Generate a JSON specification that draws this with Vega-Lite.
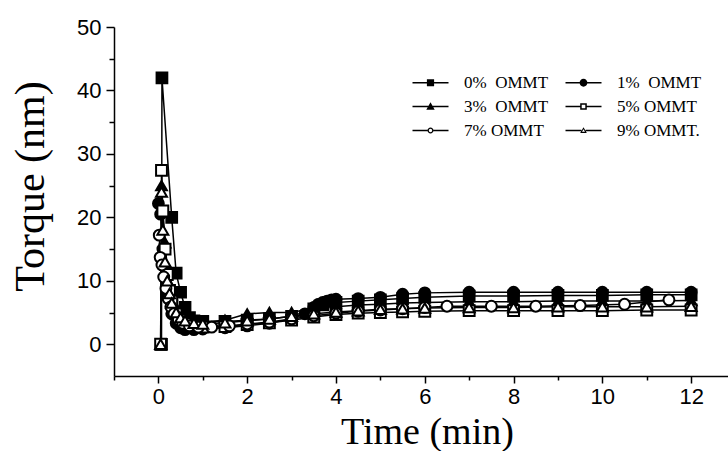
{
  "$schema": "https://vega.github.io/schema/vega-lite/v6.json",
  "width": 614,
  "height": 349,
  "autosize": {"type": "none"},
  "padding": {"left": 114, "top": 27, "right": 0, "bottom": 75},
  "background": "white",
  "config": {
    "view": {"stroke": null},
    "axis": {"domainColor": "black", "domainWidth": 1.5, "tickColor": "black", "tickWidth": 1.5, "labelColor": "black", "labelFont": "Liberation Sans", "labelFontSize": 22, "titleColor": "black", "titleFont": "Liberation Serif", "titleFontSize": 42, "titleFontWeight": "normal", "grid": false}
  },
  "datasets": {
    "d": [
      {"s": "0%\u00a0 OMMT", "t": 0.07, "v": 0}, {"s": "0%\u00a0 OMMT", "t": 0.08, "v": 42}, {"s": "0%\u00a0 OMMT", "t": 0.3, "v": 20}, {"s": "0%\u00a0 OMMT", "t": 0.4, "v": 11.2}, {"s": "0%\u00a0 OMMT", "t": 0.5, "v": 8.2}, {"s": "0%\u00a0 OMMT", "t": 0.6, "v": 5.8}, {"s": "0%\u00a0 OMMT", "t": 0.7, "v": 4.2}, {"s": "0%\u00a0 OMMT", "t": 0.8, "v": 3.7}, {"s": "0%\u00a0 OMMT", "t": 1.0, "v": 3.6}, {"s": "0%\u00a0 OMMT", "t": 1.5, "v": 3.6}, {"s": "0%\u00a0 OMMT", "t": 2.0, "v": 3.8}, {"s": "0%\u00a0 OMMT", "t": 2.5, "v": 4.0}, {"s": "0%\u00a0 OMMT", "t": 3.0, "v": 4.4}, {"s": "0%\u00a0 OMMT", "t": 3.5, "v": 5.6}, {"s": "0%\u00a0 OMMT", "t": 3.7, "v": 6.2}, {"s": "0%\u00a0 OMMT", "t": 4.0, "v": 6.6}, {"s": "0%\u00a0 OMMT", "t": 4.5, "v": 6.8}, {"s": "0%\u00a0 OMMT", "t": 5.0, "v": 7.0}, {"s": "0%\u00a0 OMMT", "t": 5.5, "v": 7.2}, {"s": "0%\u00a0 OMMT", "t": 6.0, "v": 7.4}, {"s": "0%\u00a0 OMMT", "t": 7, "v": 7.6}, {"s": "0%\u00a0 OMMT", "t": 8, "v": 7.6}, {"s": "0%\u00a0 OMMT", "t": 9, "v": 7.7}, {"s": "0%\u00a0 OMMT", "t": 10, "v": 7.7}, {"s": "0%\u00a0 OMMT", "t": 11, "v": 7.8}, {"s": "0%\u00a0 OMMT", "t": 12, "v": 7.8},
      {"s": "1%\u00a0 OMMT", "t": 0.0, "v": 22.2}, {"s": "1%\u00a0 OMMT", "t": 0.05, "v": 20.5}, {"s": "1%\u00a0 OMMT", "t": 0.1, "v": 15}, {"s": "1%\u00a0 OMMT", "t": 0.15, "v": 10.5}, {"s": "1%\u00a0 OMMT", "t": 0.2, "v": 7.5}, {"s": "1%\u00a0 OMMT", "t": 0.3, "v": 4.8}, {"s": "1%\u00a0 OMMT", "t": 0.4, "v": 3.3}, {"s": "1%\u00a0 OMMT", "t": 0.5, "v": 2.6}, {"s": "1%\u00a0 OMMT", "t": 0.6, "v": 2.3}, {"s": "1%\u00a0 OMMT", "t": 0.8, "v": 2.3}, {"s": "1%\u00a0 OMMT", "t": 1.0, "v": 2.4}, {"s": "1%\u00a0 OMMT", "t": 1.5, "v": 2.6}, {"s": "1%\u00a0 OMMT", "t": 2.0, "v": 2.9}, {"s": "1%\u00a0 OMMT", "t": 2.5, "v": 3.3}, {"s": "1%\u00a0 OMMT", "t": 3.0, "v": 4.0}, {"s": "1%\u00a0 OMMT", "t": 3.3, "v": 4.8}, {"s": "1%\u00a0 OMMT", "t": 3.5, "v": 5.8}, {"s": "1%\u00a0 OMMT", "t": 3.6, "v": 6.3}, {"s": "1%\u00a0 OMMT", "t": 3.7, "v": 6.6}, {"s": "1%\u00a0 OMMT", "t": 3.8, "v": 6.8}, {"s": "1%\u00a0 OMMT", "t": 3.9, "v": 7.0}, {"s": "1%\u00a0 OMMT", "t": 4.0, "v": 7.1}, {"s": "1%\u00a0 OMMT", "t": 4.5, "v": 7.2}, {"s": "1%\u00a0 OMMT", "t": 5.0, "v": 7.4}, {"s": "1%\u00a0 OMMT", "t": 5.5, "v": 7.9}, {"s": "1%\u00a0 OMMT", "t": 6.0, "v": 8.1}, {"s": "1%\u00a0 OMMT", "t": 7, "v": 8.2}, {"s": "1%\u00a0 OMMT", "t": 8, "v": 8.2}, {"s": "1%\u00a0 OMMT", "t": 9, "v": 8.2}, {"s": "1%\u00a0 OMMT", "t": 10, "v": 8.2}, {"s": "1%\u00a0 OMMT", "t": 11, "v": 8.2}, {"s": "1%\u00a0 OMMT", "t": 12, "v": 8.2},
      {"s": "3%\u00a0 OMMT", "t": 0.07, "v": 25}, {"s": "3%\u00a0 OMMT", "t": 0.1, "v": 21}, {"s": "3%\u00a0 OMMT", "t": 0.15, "v": 16}, {"s": "3%\u00a0 OMMT", "t": 0.2, "v": 12}, {"s": "3%\u00a0 OMMT", "t": 0.25, "v": 9.5}, {"s": "3%\u00a0 OMMT", "t": 0.3, "v": 7.8}, {"s": "3%\u00a0 OMMT", "t": 0.4, "v": 5.8}, {"s": "3%\u00a0 OMMT", "t": 0.5, "v": 4.6}, {"s": "3%\u00a0 OMMT", "t": 0.6, "v": 4.0}, {"s": "3%\u00a0 OMMT", "t": 0.7, "v": 3.7}, {"s": "3%\u00a0 OMMT", "t": 0.9, "v": 3.5}, {"s": "3%\u00a0 OMMT", "t": 1.0, "v": 3.5}, {"s": "3%\u00a0 OMMT", "t": 1.5, "v": 3.8}, {"s": "3%\u00a0 OMMT", "t": 2.0, "v": 4.8}, {"s": "3%\u00a0 OMMT", "t": 2.5, "v": 5.0}, {"s": "3%\u00a0 OMMT", "t": 3.0, "v": 5.0}, {"s": "3%\u00a0 OMMT", "t": 3.5, "v": 5.7}, {"s": "3%\u00a0 OMMT", "t": 4.0, "v": 5.9}, {"s": "3%\u00a0 OMMT", "t": 4.5, "v": 6.2}, {"s": "3%\u00a0 OMMT", "t": 5.0, "v": 6.3}, {"s": "3%\u00a0 OMMT", "t": 5.5, "v": 6.5}, {"s": "3%\u00a0 OMMT", "t": 6.0, "v": 6.6}, {"s": "3%\u00a0 OMMT", "t": 7, "v": 6.7}, {"s": "3%\u00a0 OMMT", "t": 8, "v": 6.7}, {"s": "3%\u00a0 OMMT", "t": 9, "v": 6.8}, {"s": "3%\u00a0 OMMT", "t": 10, "v": 6.8}, {"s": "3%\u00a0 OMMT", "t": 11, "v": 6.8}, {"s": "3%\u00a0 OMMT", "t": 12, "v": 6.9},
      {"s": "5% OMMT", "t": 0.05, "v": 0}, {"s": "5% OMMT", "t": 0.07, "v": 27.4}, {"s": "5% OMMT", "t": 0.1, "v": 21}, {"s": "5% OMMT", "t": 0.15, "v": 15}, {"s": "5% OMMT", "t": 0.2, "v": 11}, {"s": "5% OMMT", "t": 0.25, "v": 8.5}, {"s": "5% OMMT", "t": 0.3, "v": 6.8}, {"s": "5% OMMT", "t": 0.4, "v": 4.8}, {"s": "5% OMMT", "t": 0.5, "v": 3.8}, {"s": "5% OMMT", "t": 0.6, "v": 3.2}, {"s": "5% OMMT", "t": 0.8, "v": 2.8}, {"s": "5% OMMT", "t": 1.0, "v": 2.7}, {"s": "5% OMMT", "t": 1.5, "v": 2.8}, {"s": "5% OMMT", "t": 2.0, "v": 3.1}, {"s": "5% OMMT", "t": 2.5, "v": 3.4}, {"s": "5% OMMT", "t": 3.0, "v": 3.8}, {"s": "5% OMMT", "t": 3.5, "v": 4.3}, {"s": "5% OMMT", "t": 4.0, "v": 4.7}, {"s": "5% OMMT", "t": 4.5, "v": 4.9}, {"s": "5% OMMT", "t": 5.0, "v": 5.0}, {"s": "5% OMMT", "t": 5.5, "v": 5.1}, {"s": "5% OMMT", "t": 6.0, "v": 5.2}, {"s": "5% OMMT", "t": 7, "v": 5.3}, {"s": "5% OMMT", "t": 8, "v": 5.3}, {"s": "5% OMMT", "t": 9, "v": 5.3}, {"s": "5% OMMT", "t": 10, "v": 5.3}, {"s": "5% OMMT", "t": 11, "v": 5.4}, {"s": "5% OMMT", "t": 12, "v": 5.4},
      {"s": "7% OMMT", "t": 0.02, "v": 17.2}, {"s": "7% OMMT", "t": 0.04, "v": 13.7}, {"s": "7% OMMT", "t": 0.08, "v": 12.5}, {"s": "7% OMMT", "t": 0.12, "v": 10.6}, {"s": "7% OMMT", "t": 0.17, "v": 8.8}, {"s": "7% OMMT", "t": 0.22, "v": 7.2}, {"s": "7% OMMT", "t": 0.28, "v": 5.9}, {"s": "7% OMMT", "t": 0.35, "v": 4.8}, {"s": "7% OMMT", "t": 0.45, "v": 3.9}, {"s": "7% OMMT", "t": 0.55, "v": 3.3}, {"s": "7% OMMT", "t": 0.7, "v": 2.9}, {"s": "7% OMMT", "t": 0.9, "v": 2.7}, {"s": "7% OMMT", "t": 1.2, "v": 2.7}, {"s": "7% OMMT", "t": 1.6, "v": 2.9}, {"s": "7% OMMT", "t": 2.0, "v": 3.2}, {"s": "7% OMMT", "t": 2.5, "v": 3.5}, {"s": "7% OMMT", "t": 3.0, "v": 4.0}, {"s": "7% OMMT", "t": 3.5, "v": 4.5}, {"s": "7% OMMT", "t": 4.0, "v": 4.9}, {"s": "7% OMMT", "t": 4.5, "v": 5.2}, {"s": "7% OMMT", "t": 5.0, "v": 5.4}, {"s": "7% OMMT", "t": 5.5, "v": 5.6}, {"s": "7% OMMT", "t": 6.0, "v": 5.8}, {"s": "7% OMMT", "t": 6.5, "v": 6.0}, {"s": "7% OMMT", "t": 7.5, "v": 6.0}, {"s": "7% OMMT", "t": 8.5, "v": 6.0}, {"s": "7% OMMT", "t": 9.5, "v": 6.1}, {"s": "7% OMMT", "t": 10.5, "v": 6.3}, {"s": "7% OMMT", "t": 11.5, "v": 7.0},
      {"s": "9% OMMT.", "t": 0.05, "v": 0}, {"s": "9% OMMT.", "t": 0.07, "v": 24}, {"s": "9% OMMT.", "t": 0.1, "v": 18}, {"s": "9% OMMT.", "t": 0.15, "v": 13}, {"s": "9% OMMT.", "t": 0.2, "v": 10}, {"s": "9% OMMT.", "t": 0.25, "v": 8}, {"s": "9% OMMT.", "t": 0.3, "v": 6.5}, {"s": "9% OMMT.", "t": 0.4, "v": 5.0}, {"s": "9% OMMT.", "t": 0.5, "v": 4.2}, {"s": "9% OMMT.", "t": 0.6, "v": 3.7}, {"s": "9% OMMT.", "t": 0.8, "v": 3.3}, {"s": "9% OMMT.", "t": 1.0, "v": 3.2}, {"s": "9% OMMT.", "t": 1.5, "v": 3.4}, {"s": "9% OMMT.", "t": 2.0, "v": 3.7}, {"s": "9% OMMT.", "t": 2.5, "v": 4.0}, {"s": "9% OMMT.", "t": 3.0, "v": 4.4}, {"s": "9% OMMT.", "t": 3.5, "v": 4.8}, {"s": "9% OMMT.", "t": 4.0, "v": 5.1}, {"s": "9% OMMT.", "t": 4.5, "v": 5.3}, {"s": "9% OMMT.", "t": 5.0, "v": 5.5}, {"s": "9% OMMT.", "t": 5.5, "v": 5.6}, {"s": "9% OMMT.", "t": 6.0, "v": 5.7}, {"s": "9% OMMT.", "t": 7, "v": 5.8}, {"s": "9% OMMT.", "t": 8, "v": 5.8}, {"s": "9% OMMT.", "t": 9, "v": 5.9}, {"s": "9% OMMT.", "t": 10, "v": 5.9}, {"s": "9% OMMT.", "t": 11, "v": 5.9}, {"s": "9% OMMT.", "t": 12, "v": 6.0}
    ]
  },
  "data": {"name": "d"},
  "layer": [
    {
      "mark": {"type": "line", "color": "black", "strokeWidth": 1.5},
      "encoding": {
        "x": {"field": "t", "type": "quantitative", "scale": {"domain": [-1, 12.83], "nice": false, "zero": false},
          "axis": {"orient": "bottom", "values": [0, 2, 4, 6, 8, 10, 12], "tickSize": 7, "labelPadding": 3, "title": "Time (min)", "titleFontSize": 38, "titleX": 313, "titleY": 67, "titleBaseline": "alphabetic", "titleAlign": "center"}},
        "y": {"field": "v", "type": "quantitative", "scale": {"domain": [-5, 50], "nice": false, "zero": false},
          "axis": {"orient": "left", "values": [0, 10, 20, 30, 40, 50], "tickSize": 8, "labelPadding": 5, "title": "Torque (nm)", "titleX": -71, "titleY": 159, "titleAngle": -90, "titleBaseline": "alphabetic", "titleAlign": "center"}},
        "detail": {"field": "s", "type": "nominal"}
      }
    },
    {
      "mark": {"type": "point", "filled": true, "stroke": "black", "strokeWidth": 2, "opacity": 1},
      "encoding": {
        "x": {"field": "t", "type": "quantitative",
          "axis": {"orient": "bottom", "values": [-1, 1, 3, 5, 7, 9, 11], "tickSize": 4, "labels": false, "domain": false, "title": null}},
        "y": {"field": "v", "type": "quantitative",
          "axis": {"orient": "left", "values": [5, 15, 25, 35, 45], "tickSize": 5, "labels": false, "domain": false, "title": null}},
        "shape": {"field": "s", "type": "nominal", "scale": {"domain": ["0%\u00a0 OMMT", "1%\u00a0 OMMT", "3%\u00a0 OMMT", "5% OMMT", "7% OMMT", "9% OMMT."], "range": ["square", "circle", "triangle-up", "square", "circle", "triangle-up"]}, "legend": null},
        "fill": {"field": "s", "type": "nominal", "scale": {"domain": ["0%\u00a0 OMMT", "1%\u00a0 OMMT", "3%\u00a0 OMMT", "5% OMMT", "7% OMMT", "9% OMMT."], "range": ["black", "black", "black", "white", "white", "white"]}, "legend": null},
        "size": {"field": "s", "type": "nominal", "scale": {"domain": ["0%\u00a0 OMMT", "1%\u00a0 OMMT", "3%\u00a0 OMMT", "5% OMMT", "7% OMMT", "9% OMMT."], "range": [115, 120, 100, 85, 85, 75]}, "legend": null}
      }
    },
    {
      "mark": {"type": "point", "filled": true, "color": "black", "opacity": 0},
      "encoding": {
        "x": {"field": "t", "type": "quantitative", "axis": null},
        "y": {"field": "v", "type": "quantitative", "axis": null},
        "shape": {"field": "s", "type": "nominal",
          "scale": {"domain": ["0%\u00a0 OMMT", "1%\u00a0 OMMT", "3%\u00a0 OMMT", "5% OMMT", "7% OMMT", "9% OMMT."],
            "range": [
              "M-1,-0.25H11V0.25H-1Z M3.8,-1.2H6.2V1.2H3.8Z",
              "M-1,-0.25H11V0.25H-1Z M3.7,0A1.3,1.3,0,1,1,6.3,0A1.3,1.3,0,1,1,3.7,0Z",
              "M-1,-0.25H11V0.25H-1Z M5,-1.4L6.4,1.1H3.6Z",
              "M-1,-0.25H3.9V0.25H-1Z M6.1,-0.25H11V0.25H6.1Z M3.9,-1.1H6.1V1.1H3.9Z M4.4,-0.6V0.6H5.6V-0.6Z",
              "M-1,-0.25H4V0.25H-1Z M6,-0.25H11V0.25H6Z M4,0A1,1,0,1,1,6,0A1,1,0,1,1,4,0Z M4.45,0A0.55,0.55,0,1,0,5.55,0A0.55,0.55,0,1,0,4.45,0Z",
              "M-1,-0.25H4.3V0.25H-1Z M5.7,-0.25H11V0.25H5.7Z M5,-1.1L6.1,0.8H3.9Z M5,-0.45L4.5,0.45H5.5Z"
            ]},
          "legend": {"orient": "none", "legendX": 293, "legendY": 47, "direction": "horizontal", "columns": 2, "columnPadding": 11, "rowPadding": 6, "padding": 0, "title": null, "symbolSize": 36, "symbolOpacity": 1, "symbolFillColor": "black", "symbolStrokeWidth": 0, "symbolStrokeColor": "black", "symbolOffset": 0, "labelFont": "Liberation Serif", "labelFontSize": 17, "labelColor": "black", "labelOffset": 40, "labelLimit": 200}
        }
      }
    }
  ],
  "resolve": {"scale": {"shape": "independent"}, "axis": {"x": "independent", "y": "independent"}}
}
